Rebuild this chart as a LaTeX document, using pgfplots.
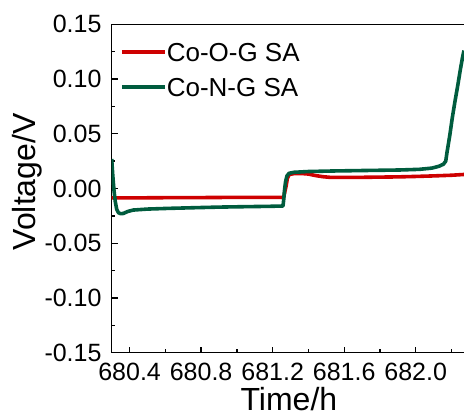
\documentclass[border=0pt]{standalone}
\usepackage{pgfplots}
\pgfplotsset{compat=1.18}
\usepackage{fontspec}
\setmainfont{Liberation Sans}
\definecolor{cored}{RGB}{206,0,0}
\definecolor{cogreen}{RGB}{0,92,62}
\begin{document}
\begin{tikzpicture}
\useasboundingbox (0,0) rectangle (464pt,419pt);
\begin{axis}[
  at={(111.7pt,66.3pt)}, anchor=south west,
  scale only axis, width=352.3pt, height=328.4pt,
  xmin=680.30, xmax=682.27, ymin=-0.15, ymax=0.15,
  axis x line*=bottom, axis y line*=left,
  axis line style={line width=1.3pt},
  every tick/.style={black, line width=1.3pt},
  tick align=inside, major tick length=6pt, minor tick length=3.5pt,
  xtick={680.4,680.8,681.2,681.6,682.0},
  xticklabels={680.4,680.8,681.2,681.6,682.0},
  minor xtick={680.6,681.0,681.4,681.8,682.2},
  ytick={-0.15,-0.10,-0.05,0,0.05,0.10,0.15},
  yticklabels={-0.15,-0.10,-0.05,0.00,0.05,0.10,0.15},
  minor ytick={-0.125,-0.075,-0.025,0.025,0.075,0.125},
  tick label style={font=\fontsize{25}{30}\selectfont, inner sep=0pt},
  xticklabel style={anchor=base, yshift=-28.3pt},
  yticklabel style={anchor=east, xshift=-10pt},
  xlabel={Time/h}, ylabel={Voltage/V},
  label style={font=\fontsize{32}{38}\selectfont, inner sep=0pt},
  xlabel style={at={(axis description cs:0.503,-0.1775)}, anchor=base},
  ylabel style={at={(axis description cs:-0.2149,0.52)}, anchor=base},
  legend style={at={(rel axis cs:0.015,0.95)}, anchor=north west, draw=none, fill=none,
    font=\fontsize{26}{31}\selectfont, row sep=17pt,
    nodes={inner sep=0pt, text depth=0pt}},
  legend cell align=left,
  /tikz/every even column/.append style={column sep=7pt},
  legend image code/.code={\draw[#1] (0pt,0pt) -- (43pt,0pt);},
  after end axis/.append code={\draw[line width=1.3pt] (rel axis cs:0,1) -- (rel axis cs:1,1);},
]
\addplot[cored, line width=3.6pt, line join=round] coordinates {
(680.300,-0.0085) (680.40,-0.0086) (680.50,-0.0085) (680.60,-0.0084) (680.70,-0.0084)
(680.80,-0.0083) (680.90,-0.0082) (681.00,-0.0081) (681.10,-0.0081) (681.20,-0.0081)
(681.262,-0.0082) (681.268,-0.0030) (681.275,0.0020) (681.282,0.0090) (681.292,0.0128)
(681.32,0.0136) (681.36,0.0137) (681.40,0.0132) (681.44,0.0118) (681.48,0.0108)
(681.52,0.0102) (681.60,0.0101) (681.70,0.0102) (681.80,0.0104) (681.90,0.0106)
(682.00,0.0110) (682.10,0.0115) (682.20,0.0121) (682.27,0.0128)
};
\addlegendentry{Co-O-G SA}
\addplot[cogreen, line width=3.6pt, line join=round] coordinates {
(680.300,0.0270) (680.306,0.0120) (680.313,-0.0020) (680.320,-0.0120) (680.328,-0.0190)
(680.338,-0.0222) (680.350,-0.0230) (680.365,-0.0228) (680.39,-0.0210) (680.42,-0.0197)
(680.50,-0.0188) (680.61,-0.0182) (680.75,-0.0176) (680.90,-0.0170) (681.05,-0.0166)
(681.18,-0.0163) (681.258,-0.0160) (681.262,-0.0100) (681.266,-0.0020) (681.272,0.0060)
(681.280,0.0115) (681.292,0.0139) (681.32,0.0148) (681.40,0.0155) (681.54,0.0160)
(681.70,0.0164) (681.91,0.0169) (682.02,0.0175) (682.09,0.0186) (682.13,0.0203)
(682.155,0.0222) (682.168,0.0250) (682.175,0.0330) (682.19,0.0480) (682.205,0.0650)
(682.22,0.0800) (682.235,0.0940) (682.25,0.1090) (682.262,0.1200) (682.27,0.1260)
};
\addlegendentry{Co-N-G SA}
\end{axis}
\end{tikzpicture}
\end{document}
